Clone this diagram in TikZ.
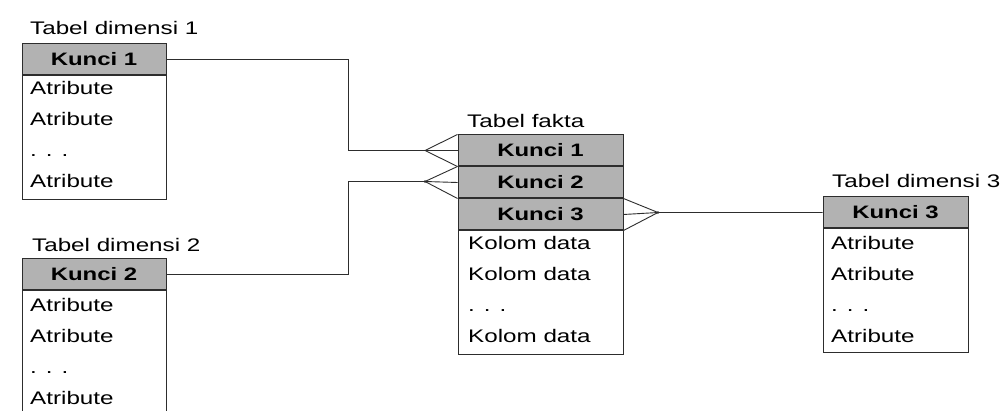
\documentclass[tikz,border=0pt]{standalone}
\usepackage{fontspec}
\setmainfont{Liberation Sans}[FakeStretch=1.33]
\usetikzlibrary{calc}
\definecolor{headgray}{RGB}{178,178,178}
\definecolor{linegray}{RGB}{45,45,45}
\tikzset{
  txt/.style={font=\fontsize{18.2}{21}\selectfont, inner sep=0pt, text=black},
  tabhead/.style={draw=linegray, line width=1pt, fill=headgray, inner sep=0pt,
    font=\fontsize{18}{21}\selectfont\bfseries, text=black},
  tabbody/.style={draw=linegray, line width=1pt, fill=white, inner sep=0pt},
  cell/.style={txt, anchor=base west},
  title/.style={txt, anchor=base west},
  conn/.style={draw=linegray, line width=0.9pt},
  tipdot/.style={fill=linegray, circle, inner sep=0pt, minimum size=2.6pt}
}
\begin{document}
\begin{tikzpicture}[x=1pt,y=-1pt]
\useasboundingbox (0,0) rectangle (1008,411);
\clip (0,0) rectangle (1008,411);
\fill[white] (0,0) rectangle (1008,411);

% Tabel dimensi 1
\node[title] (t1) at (30,35) {Tabel dimensi 1};
\node[tabhead, minimum width=144pt, minimum height=31pt] (d1k) at (94,59) {Kunci 1};
\node[tabbody, minimum width=144pt, minimum height=124pt, anchor=north] (d1b) at (d1k.south) {};
\node[cell] (d1r1) at (30,95)  {Atribute};
\node[cell] (d1r2) at (30,126) {Atribute};
\node[cell] (d1r3) at (30,157) {. . .};
\node[cell] (d1r4) at (30,188) {Atribute};

% Tabel dimensi 2
\node[title] (t2) at (32,252) {Tabel dimensi 2};
\node[tabhead, minimum width=144pt, minimum height=31pt] (d2k) at (94,274.5) {Kunci 2};
\node[tabbody, minimum width=144pt, minimum height=140pt, anchor=north] (d2b) at (d2k.south) {};
\node[cell] (d2r1) at (30,311) {Atribute};
\node[cell] (d2r2) at (30,342) {Atribute};
\node[cell] (d2r3) at (30,373) {. . .};
\node[cell] (d2r4) at (30,404) {Atribute};

% Tabel fakta
\node[title] (tf) at (467,128) {Tabel fakta};
\node[tabhead, minimum width=165pt, minimum height=31pt] (fk1) at (540.5,150.5) {Kunci 1};
\node[tabhead, minimum width=165pt, minimum height=31pt, anchor=north] (fk2) at (fk1.south) {Kunci 2};
\node[tabhead, minimum width=165pt, minimum height=31pt, anchor=north] (fk3) at (fk2.south) {Kunci 3};
\node[tabbody, minimum width=165pt, minimum height=123pt, anchor=north] (fb) at (fk3.south) {};
\node[cell] (fr1) at (468,250) {Kolom data};
\node[cell] (fr2) at (468,281) {Kolom data};
\node[cell] (fr3) at (468,311) {. . .};
\node[cell] (fr4) at (468,342) {Kolom data};

% Tabel dimensi 3
\node[title] (t3) at (832,188) {Tabel dimensi 3};
\node[tabhead, minimum width=145pt, minimum height=31pt] (d3k) at (895.5,212.5) {Kunci 3};
\node[tabbody, minimum width=145pt, minimum height=123pt, anchor=north] (d3b) at (d3k.south) {};
\node[cell] (d3r1) at (831,250) {Atribute};
\node[cell] (d3r2) at (831,281) {Atribute};
\node[cell] (d3r3) at (831,311) {. . .};
\node[cell] (d3r4) at (831,342) {Atribute};

% crow's-foot tips
\coordinate (tip1) at (425,150.5);
\coordinate (tip2) at (425,181.5);
\coordinate (tip3) at (658,212.5);

% relations
\draw[conn] (d1k.east) -- ++(182,0) |- (tip1);
\draw[conn] (fk1.north west) -- (tip1) -- (fk1.south west);
\draw[conn] (tip1) -- (fk1.west);

\draw[conn] (d2k.east) -- ++(182,0) |- (tip2);
\draw[conn] (fk2.north west) -- (tip2) -- (fk2.south west);
\draw[conn] (tip2) -- (fk2.west);
\node[tipdot] at (tip2) {};

\draw[conn] (fk3.north east) -- (tip3) -- (fk3.south east);
\draw[conn] (fk3.east) -- (tip3) -- (d3k.west);
\node[tipdot] at (tip3) {};
\end{tikzpicture}
\end{document}
